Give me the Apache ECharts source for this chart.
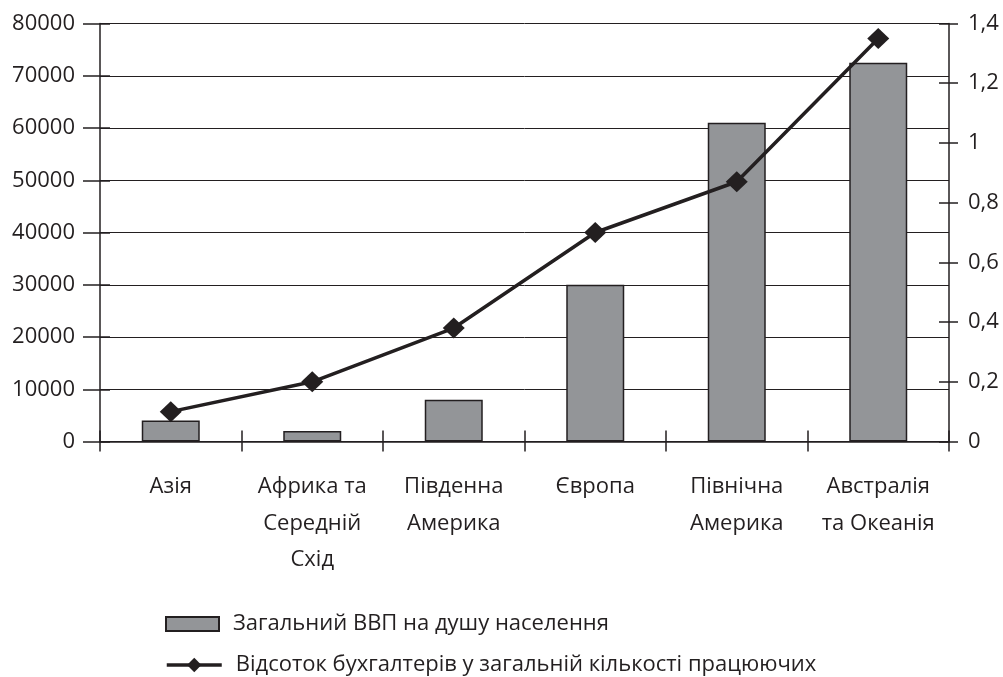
<!DOCTYPE html>
<html>
<head>
<meta charset="utf-8">
<script src="https://cdn.jsdelivr.net/npm/echarts@6/dist/echarts.min.js"></script>
<style>
html,body{margin:0;padding:0;background:#fff;}
#chart{width:1003px;height:677px;}
</style>
</head>
<body>
<div id="chart"></div>
<script>
const categories = ["Азія", "Африка та\nСередній\nСхід", "Південна\nАмерика", "Європа", "Північна\nАмерика", "Австралія\nта Океанія"];
const gdpValues = [4000, 2000, 8000, 30000, 61000, 72500];
const accountantShare = [0.1, 0.2, 0.38, 0.7, 0.87, 1.35];
const seriesNames = ["Загальний ВВП на душу населення", "Відсоток бухгалтерів у загальній кількості працюючих"];

const INK = '#231f20';
const FONT = 'Open Sans';
const FS = 22;

const chart = echarts.init(document.getElementById('chart'), null, {renderer: 'canvas'});

const leftScale = {min: 0, max: 80000, interval: 10000};
const rightScale = {min: 0, max: 1.4, interval: 0.2};
const fmtComma = v => String(Math.round(v * 10) / 10).replace('.', ',');
const fmtPlain = v => String(v);

chart.setOption({
  animation: false,
  backgroundColor: '#fff',
  textStyle: {fontFamily: FONT, color: INK},
  grid: {left: 100, right: 54, top: 23.5, bottom: 235.5, containLabel: false},
  legend: [
    {
      left: 165,
      top: 605,
      padding: 0,
      itemWidth: 53,
      itemHeight: 14,
      itemGap: 10,
      textStyle: {fontFamily: FONT, fontSize: FS, color: INK, lineHeight: 30, padding: [0, 0, 8, 9]},
      data: [{name: seriesNames[0], icon: 'rect'}]
    },
    {
      left: 165,
      top: 644,
      padding: 0,
      itemWidth: 55,
      itemHeight: 18,
      itemGap: 10,
      textStyle: {fontFamily: FONT, fontSize: FS, color: INK, lineHeight: 30, padding: [0, 0, 12, 9]},
      lineStyle: {color: INK, width: 3.5},
      data: [{name: seriesNames[1]}]
    }
  ],
  xAxis: [
    {
      type: 'category',
      data: categories,
      position: 'bottom',
      axisLine: {show: true, lineStyle: {color: INK, width: 1.5}},
      axisTick: {show: true, inside: false, length: 10, lineStyle: {color: INK, width: 1.5}},
      axisLabel: {
        fontFamily: FONT, fontSize: FS, color: INK, lineHeight: 36.5,
        margin: 27, interval: 0, align: 'center'
      },
      splitLine: {show: false}
    },
    {
      type: 'category',
      data: categories,
      position: 'bottom',
      axisLine: {show: false},
      axisTick: {show: true, inside: true, length: 11, lineStyle: {color: INK, width: 1.5}},
      axisLabel: {show: false},
      splitLine: {show: false}
    }
  ],
  yAxis: [
    {
      type: 'value',
      position: 'left',
      ...leftScale,
      axisLine: {show: true, lineStyle: {color: INK, width: 1.5}},
      axisTick: {show: true, inside: false, length: 17, lineStyle: {color: INK, width: 1.5}},
      axisLabel: {fontFamily: FONT, fontSize: FS, color: INK, margin: 25, formatter: fmtPlain},
      splitLine: {show: true, lineStyle: {color: INK, width: 1}}
    },
    {
      type: 'value',
      position: 'right',
      ...rightScale,
      axisLine: {show: true, lineStyle: {color: INK, width: 1.5}},
      axisTick: {show: true, inside: false, length: 9, lineStyle: {color: INK, width: 1.5}},
      axisLabel: {fontFamily: FONT, fontSize: FS, color: INK, margin: 19, formatter: fmtComma},
      splitLine: {show: false}
    },
    {
      type: 'value',
      position: 'left',
      ...leftScale,
      axisLine: {show: false},
      axisTick: {show: true, inside: true, length: 10, lineStyle: {color: INK, width: 1.5}},
      axisLabel: {show: false},
      splitLine: {show: false}
    },
    {
      type: 'value',
      position: 'right',
      ...rightScale,
      axisLine: {show: false},
      axisTick: {show: true, inside: true, length: 10, lineStyle: {color: INK, width: 1.5}},
      axisLabel: {show: false},
      splitLine: {show: false}
    }
  ],
  series: [
    {
      name: seriesNames[0],
      type: 'bar',
      xAxisIndex: 0,
      yAxisIndex: 0,
      data: gdpValues,
      barWidth: 58,
      itemStyle: {color: '#939598', borderColor: INK, borderWidth: 1.5},
      z: 2
    },
    {
      name: seriesNames[1],
      type: 'line',
      xAxisIndex: 0,
      yAxisIndex: 1,
      data: accountantShare,
      symbol: 'diamond',
      symbolSize: [22, 21],
      lineStyle: {color: INK, width: 3.5},
      itemStyle: {color: INK},
      z: 5
    }
  ]
});
</script>
</body>
</html>
